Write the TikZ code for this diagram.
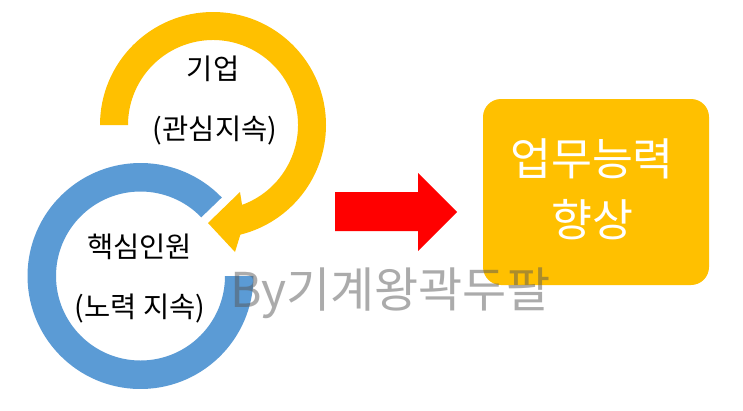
\documentclass[tikz,border=0pt]{standalone}
\usepackage{fontspec}
\setmainfont{Noto Sans CJK KR}
\usetikzlibrary{calc}
\definecolor{yel}{HTML}{FFC000}
\definecolor{blu}{HTML}{5B9BD5}
\definecolor{wm}{RGB}{89,89,89}
\tikzset{
  lbl/.style={font=\fontsize{28.5}{32}\selectfont, text=black, inner sep=0pt},
  boxtxt/.style={font=\fontsize{44.5}{61}\selectfont, text=white, align=center, inner sep=0pt},
  wmark/.style={font=\fontsize{48}{52}\selectfont, text=wm, text opacity=0.5, inner sep=0pt},
  goalbox/.style={fill=yel, rounded corners=18pt, minimum width=226pt, minimum height=186pt, inner sep=0pt}
}
\begin{document}
\begin{tikzpicture}[x=1pt,y=1pt]
\useasboundingbox (0,0) rectangle (743,-410);
\fill[white] (0,0) rectangle (743,-410);
% centers
\coordinate (bc) at (140.5,-276);
\coordinate (yc) at (213,-125);
% blue ring
\fill[blu] ($(bc)+(44:113)$) arc[start angle=44, end angle=360, radius=113]
  -- ($(bc)+(0:84.5)$) arc[start angle=360, end angle=44, radius=84.5] -- cycle;
% yellow circular arrow
\coordinate (ytip) at (208,-223);
\coordinate (ybarb1) at (240,-192);
\coordinate (ybarb2) at (235,-252);
\fill[yel] ($(yc)+(180:113)$) arc[start angle=180, end angle=-76, radius=113]
  -- (ybarb2) -- (ytip) -- (ybarb1)
  -- ($(yc)+(-70:85)$) arc[start angle=-70, end angle=180, radius=85] -- cycle;
% labels
\node[lbl] (l1) at (213,-69) {기업};
\node[lbl] (l2) at (215,-131) {(관심지속)};
\node[lbl] (l3) at (139.5,-247) {핵심인원};
\node[lbl] (l4) at (140,-309) {(노력 지속)};
% red arrow
\fill[red] (335,-192) -- (418,-192) -- (418,-173) -- (457,-212) -- (418,-251) -- (418,-231) -- (335,-231) -- cycle;
% goal box
\node[goalbox] (box) at (596,-192) {};
\node[boxtxt] (boxt) at (592,-189) {업무능력\\향상};
% watermark
\node[wmark, anchor=west] (wm) at (230,-293) {By기계왕곽두팔};
\end{tikzpicture}
\end{document}
